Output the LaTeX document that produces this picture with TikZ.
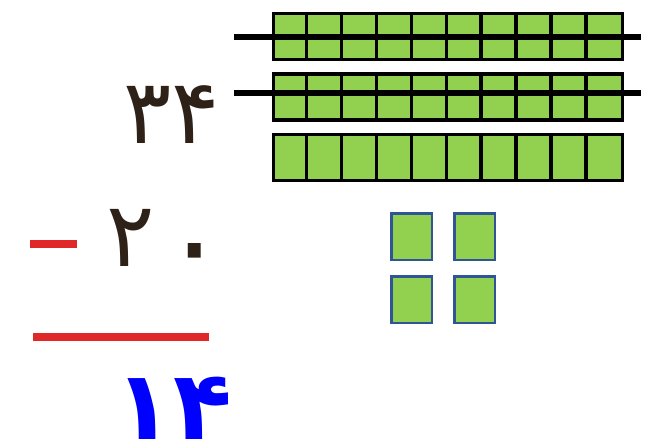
\documentclass[tikz,border=0pt]{standalone}
\usepackage{fontspec}
\newfontfamily\digitfont[Script=Arabic]{DejaVu Sans}
\usetikzlibrary{positioning}
\definecolor{tengreen}{HTML}{92D050}
\definecolor{unitblue}{HTML}{2F5597}
\definecolor{inkbrown}{HTML}{2E2118}
\definecolor{minusred}{HTML}{E02828}

\begin{document}
\begin{tikzpicture}[x=1pt, y=-1pt,
  tenbar/.style={rectangle, draw=black, fill=tengreen, line width=3.5pt,
                 minimum width=349pt, minimum height=46pt, inner sep=0pt},
  unitsq/.style={rectangle, draw=unitblue, fill=tengreen, line width=2.5pt,
                 minimum width=40.5pt, minimum height=46.5pt, inner sep=0pt},
  digits/.style={font=\digitfont\fontsize{90}{90}\selectfont, text=inkbrown, inner sep=0pt},
  answer/.style={font=\digitfont\bfseries\fontsize{96}{96}\selectfont, text=blue,
                 inner sep=0pt, text depth=0pt},
  strike/.style={line width=6pt, draw=black},
  redline/.style={line width=8pt, draw=minusred}
]
\useasboundingbox[fill=white] (0,0) rectangle (659,447);

% ten-bars
\node[tenbar] (bar1) at (448,36.5) {};
\node[tenbar, below=11pt of bar1] (bar2) {};
\node[tenbar, below=11pt of bar2] (bar3) {};
\foreach \b in {bar1,bar2,bar3}
  \foreach \k in {1,...,9}
    \draw[line width=3.5pt] ([xshift=\k*34.9pt]\b.north west) -- ([xshift=\k*34.9pt]\b.south west);

% crossed out tens
\draw[strike] ([xshift=-37.5pt]bar1.west) -- ([xshift=16.5pt]bar1.east);
\draw[strike] ([xshift=-37.5pt,yshift=4pt]bar2.west) -- ([xshift=16.5pt,yshift=4pt]bar2.east);

% ones
\node[unitsq] (u1) at (411.5,236.5) {};
\node[unitsq, right=20pt of u1] (u2) {};
\node[unitsq, below=14pt of u1] (u3) {};
\node[unitsq, right=20pt of u3] (u4) {};

% subtraction
\node[digits, anchor=base east] (top) at (220,143) {۳۴};
\node[digits, anchor=base west] (sub) at (106,266) {۲\hspace{8pt}\raisebox{-18pt}{\fontsize{120}{120}\selectfont ۰}};
\coordinate (m1) at (30,244);
\coordinate (m2) at (77,244);
\draw[redline] (m1) -- (m2);
\coordinate (r1) at (33,337);
\coordinate (r2) at (209,337);
\draw[redline] (r1) -- (r2);
\node[answer, anchor=base east] (res) at (232,439) {۱۴};
\end{tikzpicture}
\end{document}
